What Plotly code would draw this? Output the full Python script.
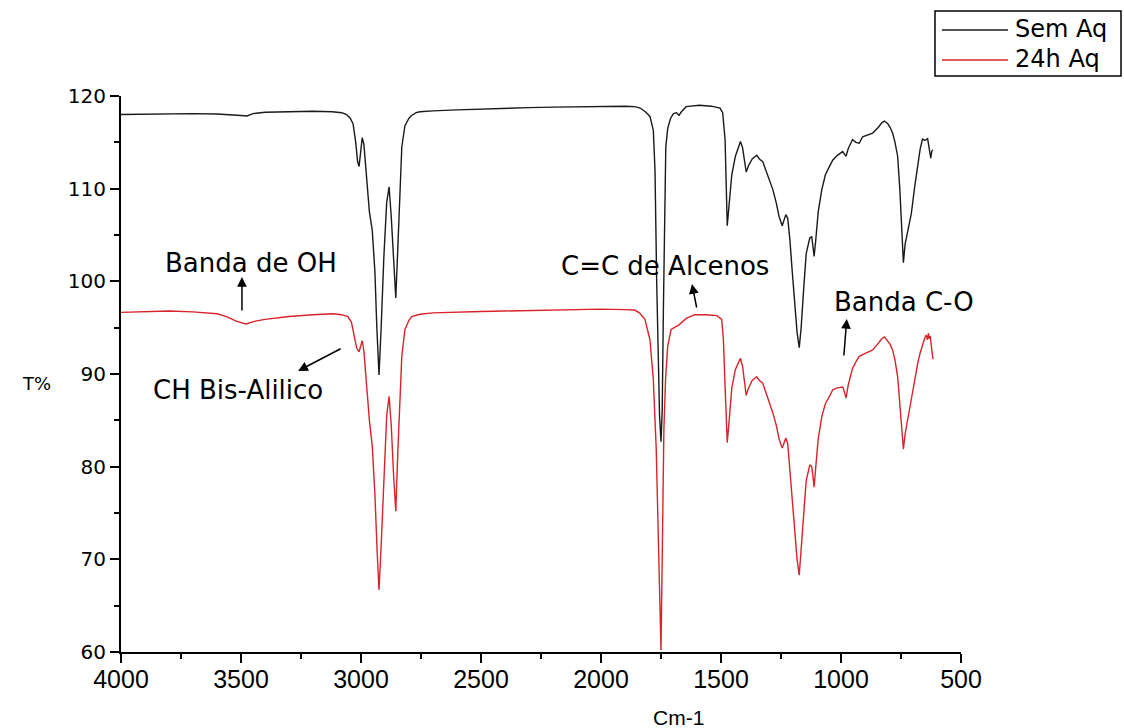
import plotly.graph_objects as go

# FTIR transmittance spectra (wavenumber in cm-1, transmittance in %)
wn_sem = [4000, 3900, 3800, 3700, 3600, 3540, 3500, 3475, 3450, 3400, 3300, 3200, 3120, 3080,
          3060, 3045, 3033, 3022, 3014, 3008, 3002, 2995, 2988, 2978, 2965, 2953, 2942, 2934,
          2925, 2916, 2905, 2893, 2883, 2874, 2864, 2855, 2846, 2838, 2830, 2817, 2800, 2789,
          2770, 2754, 2700, 2600, 2500, 2400, 2300, 2200, 2100, 2000, 1900, 1860, 1837, 1815,
          1796, 1782, 1775, 1768, 1762, 1756, 1750, 1745, 1740, 1735, 1730, 1722, 1710, 1698,
          1685, 1675, 1665, 1645, 1590, 1540, 1504, 1493, 1483, 1474, 1466, 1455, 1440, 1425,
          1419, 1410, 1400, 1395, 1385, 1370, 1351, 1340, 1326, 1310, 1295, 1284, 1270, 1258,
          1245, 1230, 1222, 1213, 1203, 1193, 1183, 1174, 1166, 1156, 1145, 1130, 1122, 1117,
          1112, 1105, 1095, 1080, 1065, 1050, 1034, 1015, 993, 985, 979, 970, 952, 938, 924,
          910, 890, 868, 845, 830, 819, 805, 795, 785, 775, 764, 755, 748, 740, 733, 720, 707,
          693, 680, 670, 660, 652, 645, 639, 634, 630, 626, 622, 618]
t_sem = [118.0, 118.05, 118.1, 118.1, 118.05, 118.0, 117.9, 117.85, 118.1, 118.25, 118.3, 118.35,
         118.3, 118.2, 118.0, 117.6, 117.0, 115.0, 112.9, 112.4, 113.8, 115.5, 114.8, 111.5,
         107.5, 105.5, 101.0, 95.0, 89.9, 95.0, 102.5, 108.5, 110.2, 107.0, 101.5, 98.2, 104.0,
         110.0, 114.5, 116.8, 117.6, 117.9, 118.2, 118.3, 118.4, 118.5, 118.6, 118.7, 118.75,
         118.8, 118.85, 118.9, 118.9, 118.85, 118.7, 118.3, 117.8, 116.3, 112.0, 100.0, 91.0,
         85.5, 82.7, 86.0, 97.0, 108.0, 114.5, 116.5, 117.6, 118.1, 118.2, 117.9, 118.3, 118.85,
         119.0, 118.9, 118.7, 118.2, 115.3, 106.0, 108.5, 111.5, 113.5, 114.8, 115.1, 114.4,
         112.5, 111.8, 112.5, 113.2, 113.6, 113.2, 112.9, 111.8, 110.8, 109.9, 108.5, 107.0,
         106.0, 107.2, 106.8, 104.5, 101.0, 97.5, 94.5, 92.85, 95.0, 99.0, 103.0, 104.7, 104.8,
         103.8, 102.7, 104.5, 107.5, 109.9, 111.5, 112.3, 113.1, 113.6, 114.0, 113.7, 113.5,
         114.3, 115.3, 115.0, 114.9, 115.6, 115.8, 116.0, 116.6, 117.1, 117.3, 117.0, 116.6,
         116.0, 115.0, 113.5, 110.0, 106.0, 102.0, 104.0, 105.8, 107.3, 110.2, 112.8, 114.3,
         115.4, 115.2, 115.3, 115.4, 114.6, 113.6, 113.3, 114.0, 114.2]

wn_aq = [4000, 3900, 3800, 3700, 3600, 3560, 3520, 3480, 3440, 3400, 3300, 3200, 3120, 3080,
         3055, 3040, 3028, 3018, 3008, 3001, 2995, 2988, 2978, 2965, 2953, 2942, 2933, 2925,
         2916, 2905, 2893, 2883, 2874, 2864, 2855, 2846, 2838, 2830, 2817, 2800, 2789, 2754,
         2700, 2600, 2500, 2400, 2300, 2200, 2100, 2000, 1900, 1860, 1840, 1817, 1796, 1782,
         1770, 1760, 1750, 1744, 1738, 1731, 1722, 1708, 1695, 1675, 1645, 1610, 1560, 1517,
         1497, 1490, 1482, 1474, 1466, 1455, 1440, 1425, 1419, 1410, 1400, 1395, 1385, 1370,
         1351, 1340, 1326, 1310, 1295, 1284, 1270, 1258, 1245, 1230, 1222, 1213, 1203, 1193,
         1183, 1174, 1166, 1156, 1145, 1130, 1122, 1117, 1112, 1105, 1095, 1080, 1065, 1050,
         1034, 1015, 993, 985, 979, 970, 952, 938, 924, 910, 890, 868, 845, 830, 819, 805, 795,
         785, 775, 764, 755, 748, 740, 733, 720, 707, 693, 680, 670, 660, 652, 645, 640, 636,
         632, 628, 624, 620, 616]
t_aq = [96.65, 96.75, 96.8, 96.7, 96.5, 96.2, 95.7, 95.4, 95.7, 95.9, 96.2, 96.4, 96.5, 96.4,
        96.2, 95.6, 94.2, 92.8, 92.4, 93.2, 93.6, 92.5, 89.0, 85.0, 82.2, 77.0, 71.0, 66.7,
        71.5, 79.0, 85.5, 87.6, 84.5, 79.0, 75.2, 82.0, 88.0, 91.9, 94.8, 95.8, 96.2, 96.45,
        96.6, 96.7, 96.75, 96.8, 96.85, 96.9, 96.95, 97.0, 96.95, 96.9, 96.6, 95.9, 93.7, 89.4,
        82.0, 72.0, 60.2, 72.0, 84.0, 89.4, 93.0, 94.8, 95.0, 95.3, 96.0, 96.4, 96.4, 96.3,
        95.9, 93.7, 88.0, 82.6, 85.0, 88.5, 90.5, 91.4, 91.7, 90.8, 88.5, 87.7, 88.5, 89.3,
        89.7, 89.3, 89.0, 87.8, 86.8, 85.8, 84.5, 83.0, 82.0, 83.1, 82.5, 79.5, 76.0, 73.0,
        70.0, 68.3, 71.0, 75.0, 78.5, 80.2, 80.0, 79.0, 77.8, 80.0, 83.0, 85.4, 86.8, 87.5,
        88.3, 88.5, 88.6, 88.0, 87.4, 88.8, 90.6, 91.3, 91.9, 92.1, 92.3, 92.6, 93.3, 93.8,
        94.0, 93.6, 93.2, 92.6, 91.5, 89.7, 87.0, 84.5, 81.9, 83.5, 85.5, 87.2, 89.3, 91.2,
        92.3, 93.3, 93.8, 94.2, 93.7, 94.4, 93.8, 94.1, 92.8, 92.2, 91.6]

series_names = ["Sem Aq", "24h Aq"]
series_colors = ["#1a1a1a", "#d9232b"]
x_ticks = [4000, 3500, 3000, 2500, 2000, 1500, 1000, 500]
y_ticks = [60, 70, 80, 90, 100, 110, 120]

# band annotations: label, label position, arrow head, arrow tail offset (px)
labels = ["Banda de OH", "CH Bis-Alilico", "C=C de Alcenos", "Banda C-O"]
label_x = [3458, 3512, 1733, 737]
label_y = [101.98, 88.27, 101.65, 97.77]
arrow_x = [3496, 3262, 1621, 976]
arrow_y = [100.47, 90.33, 99.71, 95.94]
arrow_ax = [0, 44, 5, -3]
arrow_ay = [35, -23, 25, 38]

TEXT_FONT = "DejaVu Sans"

# plot area in pixels (used to place the boxed key above the plot)
L, R, T, B, W, H = 121, 163, 96, 76, 1124, 728
PW, PH = W - L - R, H - T - B


def px_x(p):
    return (p - L) / PW


def px_y(p):
    return (H - B - p) / PH


fig = go.Figure()
for wn, tr, nm, col in [(wn_sem, t_sem, series_names[0], series_colors[0]),
                        (wn_aq, t_aq, series_names[1], series_colors[1])]:
    fig.add_trace(go.Scatter(x=wn, y=tr, mode="lines", name=nm,
                             line=dict(color=col, width=1.4), showlegend=False))

for i, txt in enumerate(labels):
    fig.add_annotation(x=label_x[i], y=label_y[i], text=txt, showarrow=False,
                       font=dict(family=TEXT_FONT, size=26, color="black"),
                       xanchor="center", yanchor="middle")
    fig.add_annotation(x=arrow_x[i], y=arrow_y[i], ax=arrow_ax[i], ay=arrow_ay[i],
                       text="", showarrow=True, arrowhead=2, arrowsize=1.3,
                       arrowwidth=1.5, arrowcolor="black")

# boxed key in the top-right corner
fig.add_shape(type="rect", xref="paper", yref="paper",
              x0=px_x(935), x1=px_x(1121), y0=px_y(76), y1=px_y(11),
              line=dict(color="black", width=1.5), fillcolor="white")
for k, (nm, col) in enumerate(zip(series_names, series_colors)):
    yk = 30 + 30 * k
    fig.add_shape(type="line", xref="paper", yref="paper",
                  x0=px_x(942), x1=px_x(1008), y0=px_y(yk), y1=px_y(yk),
                  line=dict(color=col, width=1.4))
    fig.add_annotation(xref="paper", yref="paper", x=px_x(1013), y=px_y(yk - 1),
                       text=nm, showarrow=False, xanchor="left", yanchor="middle",
                       font=dict(family=TEXT_FONT, size=24, color="black"))

# axis captions
fig.add_annotation(xref="paper", yref="paper", x=px_x(36), y=px_y(383), text="T%",
                   showarrow=False, xanchor="center", yanchor="middle",
                   font=dict(family=TEXT_FONT, size=18, color="black"))
fig.add_annotation(xref="paper", yref="paper", x=px_x(678), y=px_y(717), text="Cm-1",
                   showarrow=False, xanchor="center", yanchor="middle",
                   font=dict(family="Liberation Sans", size=21, color="black"))

fig.update_xaxes(range=[4000, 500], tickvals=x_ticks, showgrid=False, zeroline=False,
                 showline=True, linecolor="black", linewidth=2,
                 ticks="outside", ticklen=9, tickwidth=2, tickcolor="black",
                 ticklabelstandoff=-5,
                 minor=dict(dtick=250, ticks="outside", ticklen=5, tickwidth=2,
                            tickcolor="black", showgrid=False),
                 tickfont=dict(family="Liberation Sans", size=25, color="black"))
fig.update_yaxes(range=[60, 120], tickvals=y_ticks, showgrid=False, zeroline=False,
                 showline=True, linecolor="black", linewidth=2,
                 ticks="outside", ticklen=9, tickwidth=2, tickcolor="black",
                 minor=dict(dtick=5, ticks="outside", ticklen=5, tickwidth=2,
                            tickcolor="black", showgrid=False),
                 tickfont=dict(family=TEXT_FONT, size=20, color="black"))

fig.update_layout(
    width=W, height=H,
    margin=dict(l=L, r=R, t=T, b=B),
    paper_bgcolor="white", plot_bgcolor="white",
    showlegend=False,
)

fig.write_html("out.html")
